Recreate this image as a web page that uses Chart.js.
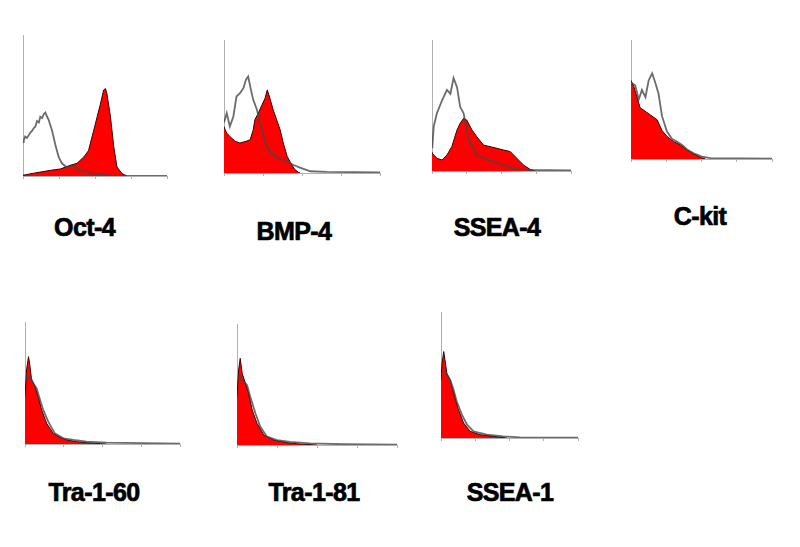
<!DOCTYPE html>
<html><head><meta charset="utf-8">
<script src="https://cdn.jsdelivr.net/npm/chart.js@4.4.1/dist/chart.umd.min.js"></script>
<style>
html,body{margin:0;padding:0;background:#fff}
body{width:800px;height:547px;position:relative;overflow:hidden;font-family:"Liberation Sans",Arial,sans-serif}
canvas{position:absolute}
.lab{position:absolute;width:200px;text-align:center;font-weight:bold;font-size:25px;line-height:25px;color:#000;letter-spacing:-0.6px;-webkit-text-stroke:0.7px #000}
</style></head><body>
<script>
// ---- data (x = log decade of fluorescence, y = % of axis height) ----
const markers = ['Oct-4','BMP-4','SSEA-4','C-kit','Tra-1-60','Tra-1-81','SSEA-1'];
const decadeTicks = [0,1,2,3,4];

const oct4Control = [[0,24],[0.02,25],[0.06,28],[0.11,27],[0.16,29],[0.21,31],[0.25,32],[0.30,34],[0.34,35],[0.39,39],[0.44,38],[0.48,42],[0.53,41],[0.58,44],[0.62,45],[0.67,42],[0.71,40],[0.76,36],[0.81,32],[0.90,22],[0.99,13.5],[1.08,9],[1.22,6],[1.41,7.5],[1.59,4],[1.96,1.7],[2.33,0.5],[2.6,0],[4,0]];
const oct4Stain   = [[0,0.5],[0.30,2],[0.76,4],[1.04,5],[1.31,7.6],[1.5,9],[1.69,13.5],[1.82,18],[1.96,32],[2.06,42],[2.15,51],[2.24,61],[2.29,62],[2.33,58.5],[2.43,42],[2.52,21],[2.61,6.4],[2.75,1.7],[2.89,0]];

const bmp4Control = [[0,38],[0.03,41],[0.07,45],[0.15,35],[0.24,42.5],[0.32,57.5],[0.41,60],[0.50,64],[0.56,70],[0.62,72.5],[0.68,64],[0.75,55],[0.84,48],[0.92,38],[1.01,28],[1.09,20],[1.22,15],[1.39,11],[1.61,9],[1.78,6],[1.95,4],[2.21,1.3],[2.63,0.8],[4,0.5]];
const bmp4Stain   = [[0,35],[0.03,32.5],[0.07,30],[0.15,27.5],[0.28,24],[0.41,22.5],[0.58,24],[0.67,25],[0.75,32.5],[0.79,40],[0.88,45],[0.97,51],[1.05,56],[1.11,62.5],[1.18,56],[1.26,47.5],[1.35,40],[1.44,32.5],[1.52,22.5],[1.62,12.5],[1.74,6],[1.82,2.5],[1.91,0.5],[1.95,0]];

const ssea4Control = [[0,18],[0.01,18.6],[0.05,34],[0.14,44],[0.29,54],[0.43,62],[0.53,59],[0.62,71],[0.72,64],[0.81,49],[0.91,44],[1.05,24],[1.20,17],[1.29,12],[1.48,10],[1.77,7],[2.06,4.6],[2.34,2],[2.63,0.8],[4,0.4]];
const ssea4Stain   = [[0,14],[0.01,13.5],[0.14,9.7],[0.29,8.4],[0.43,12.2],[0.57,18.6],[0.72,31.3],[0.81,36.4],[0.91,40.2],[1.0,38.9],[1.15,31.3],[1.29,26.2],[1.48,19.8],[1.67,18.6],[1.87,17.3],[2.06,16],[2.25,14.8],[2.44,9.7],[2.63,4.6],[2.82,1.3],[2.97,0]];

const ckitControl = [[0,63],[0.01,64],[0.12,62],[0.22,50],[0.31,58],[0.41,52],[0.50,66],[0.60,72],[0.69,64],[0.78,55],[0.88,36],[1.02,23],[1.16,17],[1.30,14.6],[1.45,11.8],[1.59,8],[1.78,4.8],[2.01,2],[2.25,0.8],[4,0.3]];
const ckitStain   = [[0,66],[0.01,66],[0.08,61],[0.17,52],[0.26,43],[0.41,40],[0.55,37],[0.74,33],[0.88,24],[1.02,19],[1.21,14.6],[1.40,11.8],[1.59,7.6],[1.78,4.2],[1.97,1.4],[2.11,0]];

const tra160Control = [[0.04,52.5],[0.13,55.2],[0.22,49.7],[0.30,45.6],[0.39,36],[0.47,27.9],[0.60,18.3],[0.77,8.7],[0.99,4.6],[1.25,3.3],[1.59,1.9],[2.11,1.1],[4,0.3]];
const tra160Stain   = [[0,38.8],[0.04,60.7],[0.09,71.6],[0.13,63.4],[0.17,52.5],[0.26,47],[0.34,38.8],[0.43,27.9],[0.56,16.9],[0.73,8.7],[0.90,5.5],[1.08,3.3],[1.33,1.9],[1.59,1.1],[1.94,0.3],[2.1,0]];

const tra181Control = [[0.08,56.5],[0.17,52.3],[0.25,49.6],[0.33,40],[0.46,26.2],[0.58,15.2],[0.75,6.9],[1.0,4.1],[1.33,2.5],[1.83,1.4],[2.67,0.6],[4,0.3]];
const tra181Stain   = [[0,40],[0.04,62],[0.08,71.6],[0.13,59.2],[0.21,51],[0.29,42.7],[0.38,28.9],[0.5,17.9],[0.67,8.3],[0.92,4.1],[1.25,1.9],[1.58,0.8],[2.0,0]];

const ssea1Control = [[0.08,54],[0.17,50],[0.27,46],[0.37,38],[0.46,29],[0.61,18.5],[0.76,10.6],[0.95,5.3],[1.34,2.6],[1.82,1.3],[2.31,0.5],[4,0.3]];
const ssea1Stain   = [[0,46.2],[0.03,59.4],[0.08,68.6],[0.13,59.4],[0.17,51.5],[0.27,46.2],[0.37,35.6],[0.51,22.4],[0.66,11.9],[0.85,5.3],[1.14,2.6],[1.53,1.3],[1.92,0]];

const controlSeries = [oct4Control, bmp4Control, ssea4Control, ckitControl, tra160Control, tra181Control, ssea1Control];
const stainSeries   = [oct4Stain, bmp4Stain, ssea4Stain, ckitStain, tra160Stain, tra181Stain, ssea1Stain];

// ---- layout: plot boxes [left, top, right, bottom] and label [centerX, baseline] ----
const plotBoxes = [[23,35,167,176],[224,40,380,173],[432,40,571,171],[631,40,772,159],[25,322,180,444],[237,324,397,445],[441,312,578,438]];
const labelPos  = [[84.5,236],[294,240],[497,236],[700,225],[94,501],[314,501],[510,501]];

const PAD = 4, XAXIS_H = 4;
const toXY = arr => arr.map(p => ({x: p[0], y: p[1]}));

markers.forEach((name, i) => {
  const [l, t, r, b] = plotBoxes[i];
  const w = r - l, h = b - t;
  const cv = document.createElement('canvas');
  cv.width = w + 2 * PAD; cv.height = h + 2 * PAD + XAXIS_H;
  cv.style.left = (l - PAD) + 'px'; cv.style.top = (t - PAD) + 'px';
  cv.style.width = cv.width + 'px'; cv.style.height = cv.height + 'px';
  document.body.appendChild(cv);
  new Chart(cv, {
    type: 'line',
    data: {
      datasets: [
        {label: name + ' control', data: toXY(controlSeries[i]), borderColor: 'rgba(70,70,70,0.8)', borderWidth: 1.8, fill: false, pointRadius: 0, tension: 0},
        {label: name, data: toXY(stainSeries[i]), borderColor: '#3a0000', borderWidth: 1, backgroundColor: '#ff0000', fill: 'origin', pointRadius: 0, tension: 0}
      ]
    },
    options: {
      responsive: false, animation: false, devicePixelRatio: 1,
      layout: {padding: {left: PAD, right: PAD, top: PAD, bottom: PAD}},
      plugins: {legend: {display: false}, tooltip: {enabled: false}, title: {display: false}},
      scales: {
        x: {type: 'linear', min: decadeTicks[0], max: decadeTicks[decadeTicks.length - 1],
            afterBuildTicks: s => { s.ticks = decadeTicks.map(v => ({value: v})); },
            ticks: {display: false},
            grid: {display: true, drawOnChartArea: false, drawTicks: true, tickLength: 3, color: '#b0b0b0', lineWidth: 1},
            border: {display: true, color: '#b0b0b0', width: 1},
            afterFit: s => { s.height = XAXIS_H; }},
        y: {min: 0, max: 100,
            ticks: {display: false},
            grid: {display: false, drawTicks: false},
            border: {display: true, color: '#b0b0b0', width: 1},
            afterFit: s => { s.width = 0; }}
      }
    }
  });
  const d = document.createElement('div');
  d.className = 'lab';
  d.textContent = name;
  d.style.left = (labelPos[i][0] - 100) + 'px';
  d.style.top = (labelPos[i][1] - 21) + 'px';
  document.body.appendChild(d);
});
</script>
</body></html>
